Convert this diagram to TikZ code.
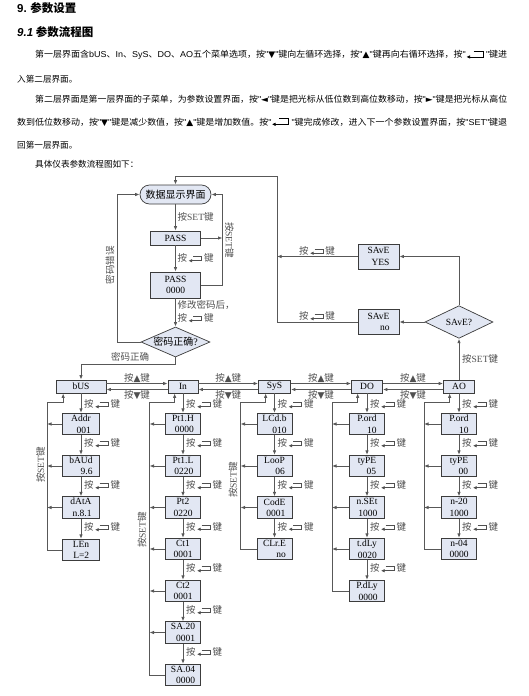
\documentclass[tikz,border=0pt]{standalone}
\usepackage{graphicx}
\usepackage{fontspec}
\setmainfont{Liberation Serif}
\newfontfamily\cjk{Noto Sans CJK SC}
\newfontfamily\arialf{Liberation Sans}
\newfontfamily\symf{DejaVu Sans}
\usetikzlibrary{shapes.geometric}
\usetikzlibrary{arrows.meta}

\definecolor{boxfill}{RGB}{226,231,243}
\definecolor{boxline}{RGB}{60,60,60}
\definecolor{lineg}{RGB}{88,88,88}
\definecolor{labelg}{RGB}{80,80,80}

\newsavebox{\entbig}
\newsavebox{\entsmall}
\newcommand{\zh}[1]{{\cjk #1}}
\newcommand{\en}[1]{{\arialf #1}}
\newcommand{\anj}{\zh{按}\hspace{1pt}\usebox{\entsmall}\hspace{2pt}\zh{键}}
\newcommand{\ansym}[1]{\zh{按}{\symf\fontsize{9}{9}\selectfont #1}\zh{键}}
\newcommand{\fitline}[2]{\resizebox{#1}{\height}{#2}}
% two-line display: name centred, value to the right
\newcommand{\lcd}[2]{\vbox{\baselineskip=11.5pt\halign{\hfil##\hfil\cr #1\cr\hfill #2\cr}}}
% enter key sign: wide top bar, hook down, long bottom bar with arrow
\newcommand{\entsign}[4]{%
  \begin{pgfpicture}\pgfsetbaseline{0pt}%
    \pgfsetlinewidth{0.8pt}\pgfsetcolor{#4}%
    \pgfsetarrowsend{Latex[length=3.5pt,width=3.5pt]}%
    \pgfpathmoveto{\pgfpoint{#1}{#3}}%
    \pgfpathlineto{\pgfpoint{#2}{#3}}%
    \pgfpathlineto{\pgfpoint{#2}{0.8pt}}%
    \pgfpathlineto{\pgfpoint{0pt}{0.8pt}}%
    \pgfusepath{stroke}%
  \end{pgfpicture}}

\begin{document}
\sbox{\entbig}{\entsign{7pt}{16pt}{6.5pt}{black}}
\sbox{\entsmall}{\entsign{4.5pt}{13pt}{5pt}{labelg}}
\begin{tikzpicture}[x=1pt,y=-1pt]
	 \tikzstyle{disp}=[draw=boxline,fill=boxfill,line width=0.7pt,minimum width=35pt,minimum height=21.5pt,inner sep=0.5pt,align=center,font=\fontsize{9.5}{11.5}\selectfont]
	 \tikzstyle{menu}=[disp,minimum height=13pt]
	 \tikzstyle{edge}=[draw=lineg,line width=0.9pt]
	 \tikzstyle{arrow edge}=[edge,-{Latex[length=4.5pt,width=3.5pt]}]
	 \tikzstyle{lab}=[font=\fontsize{9.5}{10}\selectfont,text=labelg,inner sep=0.5pt]
	 \tikzstyle{para}=[anchor=west,inner sep=0pt,font=\cjk\fontsize{8.6}{9}\selectfont]

	 \fill[white] (0,0) rectangle (529,696);
	 \useasboundingbox (0,0) rectangle (529,696);

	 % text above the chart
	 \node[anchor=west,inner sep=0pt,font=\cjk\bfseries\fontsize{11.5}{12}\selectfont] (h1) at (17,8) {\en{\bfseries 9.} 参数设置};
	 \node[anchor=west,inner sep=0pt,font=\cjk\bfseries\fontsize{11.5}{12}\selectfont] (h2) at (17,32) {\en{\bfseries\itshape 9.1} 参数流程图};
	 \node[para] (t1) at (35,55) {\fitline{472pt}{第一层界面含\en{bUS}、\en{In}、\en{SyS}、\en{DO}、\en{AO}五个菜单选项，按\en{"}{\symf ▼}\en{"}键向左循环选择，按\en{"}{\symf ▲}\en{"}键再向右循环选择，按\en{"}\usebox{\entbig}\en{ "}键进}};
	 \node[para] (t2) at (17,79) {入第二层界面。};
	 \node[para] (t3) at (35,99) {\fitline{472pt}{第二层界面是第一层界面的子菜单，为参数设置界面，按\en{"}{\symf ◄}\en{"}键是把光标从低位数到高位数移动，按\en{"}{\symf ►}\en{"}键是把光标从高位}};
	 \node[para] (t4) at (17,122) {\fitline{490pt}{数到低位数移动，按\en{"}{\symf ▼}\en{"}键是减少数值，按\en{"}{\symf ▲}\en{"}键是增加数值。按\en{"}\usebox{\entbig}\en{ "}键完成修改，进入下一个参数设置界面，按\en{"SET"}键退}};
	 \node[para] (t5) at (17,145) {回第一层界面。};
	 \node[para] (t6) at (35,164) {具体仪表参数流程图如下：};

	 % password part
	 \node[disp,rounded corners=9.5pt,minimum width=71pt,minimum height=19pt,font=\cjk\fontsize{10}{10}\selectfont] (scr) at (175.5,194.5) {数据显示界面};
	 \node[menu,minimum width=50pt,minimum height=14pt] (p1) at (175.5,238) {PASS};
	 \node[disp,minimum width=50pt,minimum height=26pt] (p2) at (175.5,285) {PASS\\0000};
	 \node[disp,diamond,aspect=2.3,minimum width=69pt,minimum height=30pt,inner sep=0pt,font=\cjk\fontsize{10}{10}\selectfont] (pw) at (175.5,342) {密码正确\textrm{?}};
	 \coordinate (r2) at (222.5,194.5);
	 \coordinate (q1) at (117,194.5);
	 \coordinate (q3) at (175.5,364);

	 \draw[arrow edge] (scr.south) -- (p1.north);
	 \draw[arrow edge] (p1.south) -- (p2.north);
	 \draw[arrow edge] (p2.south) -- (pw.north);
	 \draw[arrow edge] (p1.east) -- (p1 -| r2);
	 \draw[arrow edge] (p2.east) -| (r2) -- (scr.east);
	 \draw[arrow edge] (pw.west) -| (q1) -- (scr.west);
	 \node[lab,anchor=west] (k1) at (177,217) {\zh{按}SET\zh{键}};
	 \node[lab,anchor=west] (k2) at (177,258) {\anj};
	 \node[lab,anchor=west] (k3) at (177,305) {\zh{修改密码后，}};
	 \node[lab,anchor=west] (k4) at (177,318) {\anj};
	 \node[lab,rotate=-90] (k5) at (229.5,240) {\zh{按}SET\zh{键}};
	 \node[lab,rotate=90] (k6) at (110,265) {\zh{密码错误}};
	 \node[lab] (k7) at (130,357) {\zh{密码正确}};

	 % save part
	 \node[disp,minimum width=41pt,minimum height=25pt] (sy) at (378.5,256.5) {\lcd{SAvE}{YES}};
	 \node[disp,minimum width=41pt,minimum height=25pt] (sn) at (378.5,322) {\lcd{SAvE}{no}};
	 \node[disp,diamond,minimum width=68pt,minimum height=31pt,inner sep=0pt] (sq) at (459,322) {SAvE?};
	 \coordinate (j1) at (277,322);
	 \coordinate (j2) at (277,176);
	 \draw[arrow edge] (sn.west) -- (j1) -- (j2) -| (scr.north);
	 \draw[arrow edge] (sy.west) -- (sy -| j1);
	 \draw[arrow edge] (sq.north) |- (sy.east);
	 \draw[arrow edge] (sq.west) -- (sn.east);
	 \node[lab] (k8) at (317,250.5) {\anj};
	 \node[lab] (k9) at (317,316) {\anj};

	 % first level
	 \node[menu,minimum width=50pt] (m1) at (81,386.5) {bUS};
	 \node[menu,minimum width=30pt] (m2) at (183,386.5) {In};
	 \node[menu,minimum width=32pt] (m3) at (274.5,386.5) {SyS};
	 \node[menu,minimum width=31pt] (m4) at (367,386.5) {DO};
	 \node[menu,minimum width=31pt] (m5) at (459,386.5) {AO};
	 \draw[arrow edge] (pw.south) -- (q3) -| (m1.north);
	 \draw[arrow edge] (m5.north) -- (sq.south);
	 \node[lab,anchor=west] (k10) at (461.5,359) {\zh{按}SET\zh{键}};

	 \draw[arrow edge] ([yshift=3pt]m1.east) -- node[lab,above] {\ansym{▲}} ([yshift=3pt]m2.west);
	 \draw[arrow edge] ([yshift=-3pt]m2.west) -- node[lab,below] {\ansym{▼}} ([yshift=-3pt]m1.east);
	 \draw[arrow edge] ([yshift=3pt]m2.east) -- node[lab,above] {\ansym{▲}} ([yshift=3pt]m3.west);
	 \draw[arrow edge] ([yshift=-3pt]m3.west) -- node[lab,below] {\ansym{▼}} ([yshift=-3pt]m2.east);
	 \draw[arrow edge] ([yshift=3pt]m3.east) -- node[lab,above] {\ansym{▲}} ([yshift=3pt]m4.west);
	 \draw[arrow edge] ([yshift=-3pt]m4.west) -- node[lab,below] {\ansym{▼}} ([yshift=-3pt]m3.east);
	 \draw[arrow edge] ([yshift=3pt]m4.east) -- node[lab,above] {\ansym{▲}} ([yshift=3pt]m5.west);
	 \draw[arrow edge] ([yshift=-3pt]m5.west) -- node[lab,below] {\ansym{▼}} ([yshift=-3pt]m4.east);

	 % bUS column
	 \node[disp,minimum width=37pt] (a1) at (81,424) {\lcd{Addr}{001}};
	 \node[disp,minimum width=37pt] (a2) at (81,466) {\lcd{bAUd}{9.6}};
	 \node[disp,minimum width=37pt] (a3) at (81,507.5) {\lcd{dAtA}{n.8.1}};
	 \node[disp,minimum width=37pt] (a4) at (81,550) {\lcd{LEn}{L=2}};
	 \coordinate (l1) at (47,402.5);
	 \draw[arrow edge] (m1.south) -- (a1.north);
	 \draw[arrow edge] (a1.south) -- (a2.north);
	 \draw[arrow edge] (a2.south) -- (a3.north);
	 \draw[arrow edge] (a3.south) -- (a4.north);
	 \draw[arrow edge] (a1.west) -- (a1 -| l1);
	 \draw[arrow edge] (a2.west) -- (a2 -| l1);
	 \draw[arrow edge] (a3.west) -- (a3 -| l1);
	 \draw[arrow edge] (a4.west) -| (l1) -| ([xshift=7.5pt]m1.south west);
	 \node[lab,anchor=west] at (83.5,404) {\anj};
	 \node[lab,anchor=west] at (83.5,443) {\anj};
	 \node[lab,anchor=west] at (83.5,485) {\anj};
	 \node[lab,anchor=west] at (83.5,527) {\anj};
	 \node[lab,rotate=90] at (40.5,465) {\zh{按}SET\zh{键}};

	 % In column
	 \node[disp] (b1) at (183,424) {\lcd{Pt1.H}{0000}};
	 \node[disp] (b2) at (183,466) {\lcd{Pt1.L}{0220}};
	 \node[disp] (b3) at (183,507.5) {\lcd{Pt2}{0220}};
	 \node[disp] (b4) at (183,549) {\lcd{Ct1}{0001}};
	 \node[disp] (b5) at (183,591) {\lcd{Ct2}{0001}};
	 \node[disp] (b6) at (183,632.5) {\lcd{SA.20}{0001}};
	 \node[disp] (b7) at (183,675) {\lcd{SA.04}{0000}};
	 \coordinate (l2) at (149.5,402.5);
	 \draw[arrow edge] (m2.south) -- (b1.north);
	 \draw[arrow edge] (b1.south) -- (b2.north);
	 \draw[arrow edge] (b2.south) -- (b3.north);
	 \draw[arrow edge] (b3.south) -- (b4.north);
	 \draw[arrow edge] (b4.south) -- (b5.north);
	 \draw[arrow edge] (b5.south) -- (b6.north);
	 \draw[arrow edge] (b6.south) -- (b7.north);
	 \draw[arrow edge] (b1.west) -- (b1 -| l2);
	 \draw[arrow edge] (b2.west) -- (b2 -| l2);
	 \draw[arrow edge] (b3.west) -- (b3 -| l2);
	 \draw[arrow edge] (b4.west) -- (b4 -| l2);
	 \draw[arrow edge] (b5.west) -- (b5 -| l2);
	 \draw[arrow edge] (b6.west) -- (b6 -| l2);
	 \draw[arrow edge] (b7.west) -| (l2) -| ([xshift=7pt]m2.south west);
	 \node[lab,anchor=west] at (185.5,404) {\anj};
	 \node[lab,anchor=west] at (185.5,443) {\anj};
	 \node[lab,anchor=west] at (185.5,485) {\anj};
	 \node[lab,anchor=west] at (185.5,526.5) {\anj};
	 \node[lab,anchor=west] at (185.5,568) {\anj};
	 \node[lab,anchor=west] at (185.5,610) {\anj};
	 \node[lab,anchor=west] at (185.5,651.5) {\anj};
	 \node[lab,rotate=90] at (142,530) {\zh{按}SET\zh{键}};

	 % SyS column
	 \node[disp] (c1) at (274.5,424) {\lcd{LCd.b}{010}};
	 \node[disp] (c2) at (274.5,466) {\lcd{LooP}{06}};
	 \node[disp] (c3) at (274.5,507.5) {\lcd{CodE}{0001}};
	 \node[disp] (c4) at (274.5,549) {\lcd{CLr.E}{no}};
	 \coordinate (l3) at (240.5,402.5);
	 \draw[arrow edge] (m3.south) -- (c1.north);
	 \draw[arrow edge] (c1.south) -- (c2.north);
	 \draw[arrow edge] (c2.south) -- (c3.north);
	 \draw[arrow edge] (c3.south) -- (c4.north);
	 \draw[arrow edge] (c1.west) -- (c1 -| l3);
	 \draw[arrow edge] (c2.west) -- (c2 -| l3);
	 \draw[arrow edge] (c3.west) -- (c3 -| l3);
	 \draw[arrow edge] (c4.west) -| (l3) -| ([xshift=7.5pt]m3.south west);
	 \node[lab,anchor=west] at (277,404) {\anj};
	 \node[lab,anchor=west] at (277,443) {\anj};
	 \node[lab,anchor=west] at (277,485) {\anj};
	 \node[lab,anchor=west] at (277,526.5) {\anj};
	 \node[lab,rotate=90] at (233,480) {\zh{按}SET\zh{键}};

	 % DO column
	 \node[disp] (d1) at (367,424) {\lcd{P.ord}{10}};
	 \node[disp] (d2) at (367,466) {\lcd{tyPE}{05}};
	 \node[disp] (d3) at (367,507.5) {\lcd{n.SEt}{1000}};
	 \node[disp] (d4) at (367,549) {\lcd{t.dLy}{0020}};
	 \node[disp] (d5) at (367,591) {\lcd{P.dLy}{0000}};
	 \coordinate (l4) at (332,402.5);
	 \draw[arrow edge] (m4.south) -- (d1.north);
	 \draw[arrow edge] (d1.south) -- (d2.north);
	 \draw[arrow edge] (d2.south) -- (d3.north);
	 \draw[arrow edge] (d3.south) -- (d4.north);
	 \draw[arrow edge] (d4.south) -- (d5.north);
	 \draw[arrow edge] (d1.west) -- (d1 -| l4);
	 \draw[arrow edge] (d2.west) -- (d2 -| l4);
	 \draw[arrow edge] (d3.west) -- (d3 -| l4);
	 \draw[arrow edge] (d4.west) -- (d4 -| l4);
	 \draw[arrow edge] (d5.west) -| (l4) -| ([xshift=6.5pt]m4.south west);
	 \node[lab,anchor=west] at (369.5,404) {\anj};
	 \node[lab,anchor=west] at (369.5,443) {\anj};
	 \node[lab,anchor=west] at (369.5,485) {\anj};
	 \node[lab,anchor=west] at (369.5,526.5) {\anj};
	 \node[lab,anchor=west] at (369.5,568) {\anj};

	 % AO column
	 \node[disp] (e1) at (459,424) {\lcd{P.ord}{10}};
	 \node[disp] (e2) at (459,466) {\lcd{tyPE}{00}};
	 \node[disp] (e3) at (459,507.5) {\lcd{n-20}{1000}};
	 \node[disp] (e4) at (459,549) {\lcd{n-04}{0000}};
	 \coordinate (l5) at (424,402.5);
	 \draw[arrow edge] (m5.south) -- (e1.north);
	 \draw[arrow edge] (e1.south) -- (e2.north);
	 \draw[arrow edge] (e2.south) -- (e3.north);
	 \draw[arrow edge] (e3.south) -- (e4.north);
	 \draw[arrow edge] (e1.west) -- (e1 -| l5);
	 \draw[arrow edge] (e2.west) -- (e2 -| l5);
	 \draw[arrow edge] (e3.west) -- (e3 -| l5);
	 \draw[arrow edge] (e4.west) -| (l5) -| ([xshift=6.5pt]m5.south west);
	 \node[lab,anchor=west] at (461.5,404) {\anj};
	 \node[lab,anchor=west] at (461.5,443) {\anj};
	 \node[lab,anchor=west] at (461.5,485) {\anj};
	 \node[lab,anchor=west] at (461.5,526.5) {\anj};
\end{tikzpicture}
\end{document}
